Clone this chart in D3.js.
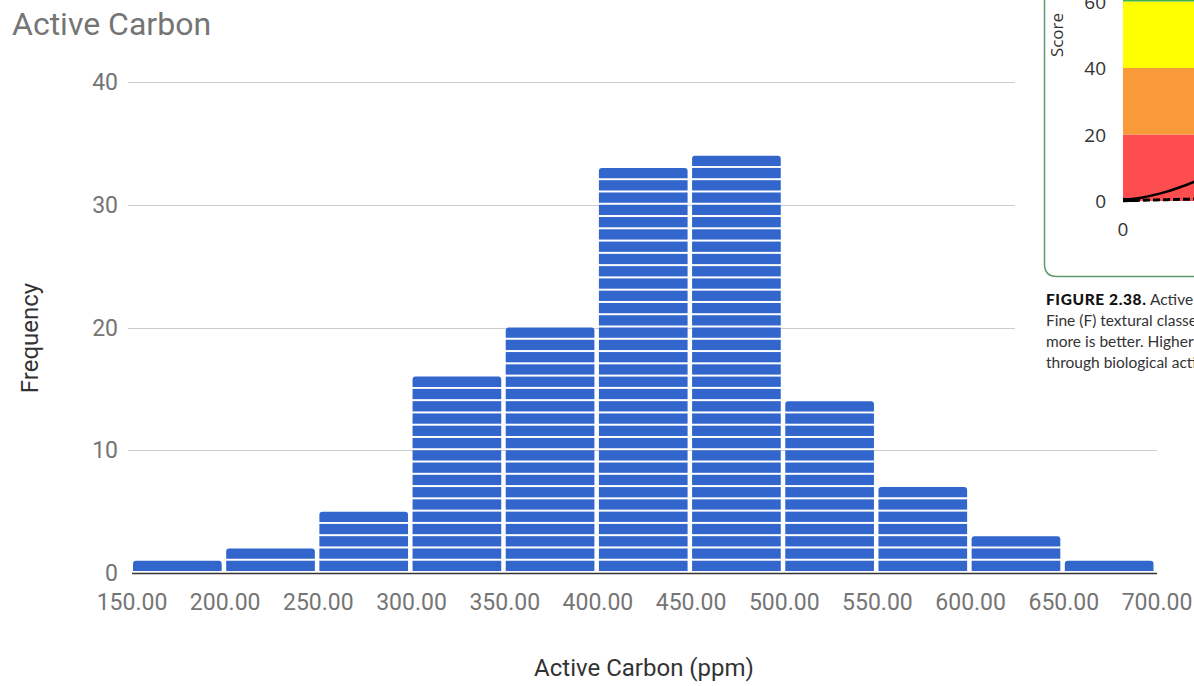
<!DOCTYPE html>
<html><head><meta charset="utf-8">
<script src="https://cdn.jsdelivr.net/npm/d3@7"></script>
<style>body{margin:0;background:#fff;overflow:hidden}svg{display:block}</style>
</head><body>
<svg id="c" width="1194" height="686"></svg>
<script>
// ---- main chart data ----
const binEdges = [150,200,250,300,350,400,450,500,550,600,650,700];
const counts   = [1,2,5,16,20,33,34,14,7,3,1];
const yTicks   = [0,10,20,30,40];
const xTickLabels = ["150.00","200.00","250.00","300.00","350.00","400.00","450.00","500.00","550.00","600.00","650.00","700.00"];
const chartTitle = "Active Carbon";
const xTitle = "Active Carbon (ppm)";
const yTitle = "Frequency";

// ---- overlapping inset (cropped figure) data ----
const insetBands = [
  {from:0, to:20, color:"#fe4d4f"},
  {from:20, to:40, color:"#f99a38"},
  {from:40, to:60, color:"#ffff00"},
  {from:60, to:80, color:"#3cb44a"}
];
const insetTicks = [0,20,40,60];
const insetCurveX = [0,1,2,3,4,5,6,7,8,9,10];
const insetSolid  = [0.3,0.5,0.8,1.2,1.7,2.2,2.8,3.5,4.3,5.1,6.0];
const insetDashed = [0.1,0.15,0.2,0.25,0.3,0.35,0.4,0.45,0.5,0.55,0.6];
const captionLines = [
  [{t:"FIGURE 2.38.", b:true},{t:" Active carbon scoring functions", b:false}],
  [{t:"Fine (F) textural classes", b:false}],
  [{t:"more is better. Higher", b:false}],
  [{t:"through biological activity", b:false}]
];

const svg = d3.select("#c");
const x = d3.scaleLinear().domain([150,700]).range([132,1157]);
const y = d3.scaleLinear().domain([0,40]).range([573,82]);
const gray = "#757575";

// title
svg.append("text").attr("x",12).attr("y",35).attr("font-family","Roboto").attr("font-size",32)
  .attr("fill",gray).text(chartTitle);

// gridlines
svg.append("g").selectAll("line").data(yTicks.filter(d=>d>0)).join("line")
  .attr("x1",128).attr("x2",1157).attr("y1",d=>Math.round(y(d))+0.5).attr("y2",d=>Math.round(y(d))+0.5)
  .attr("stroke","#cccccc").attr("stroke-width",1);

// y tick labels
svg.append("g").selectAll("text").data(yTicks).join("text")
  .attr("x",118).attr("y",d=>y(d)+8).attr("text-anchor","end")
  .attr("font-family","Roboto").attr("font-size",23).attr("fill",gray).text(d=>d);

// bars as stacked unit blocks
const bins = counts.map((c,i)=>({x0:binEdges[i],x1:binEdges[i+1],c}));
const barG = svg.append("g");
bins.forEach(b=>{
  const x0 = x(b.x0)+1, x1 = x(b.x1)-3.5, w = x1-x0;
  for(let k=0;k<b.c;k++){
    const top = y(k+1), bot = y(k);
    const h = bot-top-2;
    if(k===b.c-1){
      const r=3, yt=top, yb=top+h;
      barG.append("path")
        .attr("d",`M${x0},${yb}V${yt+r}Q${x0},${yt} ${x0+r},${yt}H${x1-r}Q${x1},${yt} ${x1},${yt+r}V${yb}Z`)
        .attr("fill","#3366cc");
    } else {
      barG.append("rect").attr("x",x0).attr("y",top).attr("width",w).attr("height",h).attr("fill","#3366cc");
    }
  }
});

// baseline
svg.append("line").attr("x1",132).attr("x2",1157).attr("y1",y(0)+0.5).attr("y2",y(0)+0.5)
  .attr("stroke","#333").attr("stroke-width",1.5);

// x tick labels
svg.append("g").selectAll("text").data(binEdges).join("text")
  .attr("x",d=>x(d)).attr("y",610).attr("text-anchor","middle")
  .attr("font-family","Roboto").attr("font-size",23).attr("fill",gray).text((d,i)=>xTickLabels[i]);

// axis titles
svg.append("text").attr("x",644).attr("y",676).attr("text-anchor","middle")
  .attr("font-family","Roboto").attr("font-size",24).attr("fill","#333").text(xTitle);
svg.append("text").attr("transform","translate(38,338) rotate(-90)").attr("text-anchor","middle")
  .attr("font-family","Roboto").attr("font-size",24).attr("fill","#333").text(yTitle);

// ---- inset overlay ----
const inset = svg.append("g");
inset.append("rect").attr("x",1015).attr("y",0).attr("width",179).attr("height",380).attr("fill","#fff");
const iy = d3.scaleLinear().domain([0,60]).range([201,1.5]);
const ix = d3.scaleLinear().domain([0,10]).range([1123,1196]);
// rounded border
inset.append("path").attr("d","M1044.5,0V264Q1044.5,276.5 1057,276.5H1200")
  .attr("fill","none").attr("stroke","#5f9a6d").attr("stroke-width",1.5);
inset.selectAll("rect.band").data(insetBands).join("rect").attr("class","band")
  .attr("x",1123).attr("width",80).attr("y",d=>iy(d.to)).attr("height",d=>iy(d.from)-iy(d.to))
  .attr("fill",d=>d.color);
inset.selectAll("text.it").data(insetTicks).join("text").attr("class","it")
  .attr("x",1106).attr("y",d=>iy(d)+7).attr("text-anchor","end")
  .attr("font-family","Open Sans").attr("font-size",19).attr("fill","#333").text(d=>d);
inset.append("text").attr("x",1123).attr("y",236).attr("text-anchor","middle")
  .attr("font-family","Open Sans").attr("font-size",19).attr("fill","#333").text("0");
inset.append("text").attr("transform","translate(1063,35) rotate(-90)").attr("text-anchor","middle")
  .attr("font-family","Open Sans").attr("font-size",17).attr("fill","#333").text("Score");
const ln = d3.line().x((d,i)=>ix(insetCurveX[i])).y(d=>iy(d)).curve(d3.curveBasis);
inset.append("path").attr("d",ln(insetSolid)).attr("fill","none").attr("stroke","#000").attr("stroke-width",2.5);
inset.append("path").attr("d",ln(insetDashed)).attr("fill","none").attr("stroke","#000").attr("stroke-width",3)
  .attr("stroke-dasharray","7,3");
inset.append("line").attr("x1",1123).attr("x2",1138).attr("y1",200).attr("y2",200).attr("stroke","#000").attr("stroke-width",4);
const cap = inset.append("text").attr("font-family","Lato").attr("font-size",15.5).attr("fill","#333");
captionLines.forEach((line,i)=>{
  line.forEach((s,j)=>{
    const sp = cap.append("tspan").attr("font-weight",s.b?"900":"normal").text(s.t);
    if(s.b) sp.attr("fill","#111").attr("letter-spacing",0.6);
    if(j===0) sp.attr("x",1046).attr("y",305+i*21);
  });
});
</script>
</body></html>
